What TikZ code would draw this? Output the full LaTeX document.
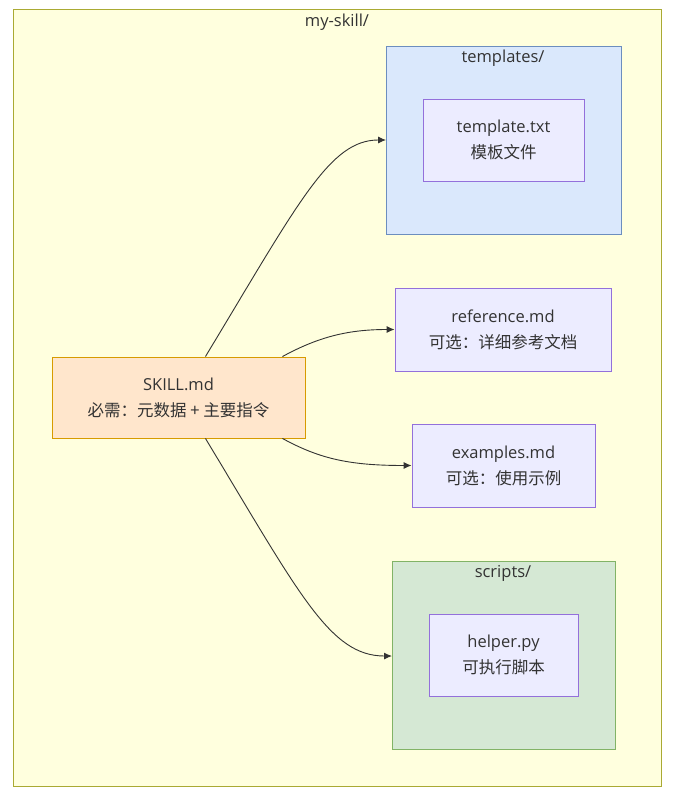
\documentclass[tikz,border=0pt]{standalone}
\usepackage{fontspec}
\setmainfont{Open Sans}
\newfontfamily\cjk{Noto Sans CJK SC}
\usetikzlibrary{arrows.meta}
\definecolor{txt}{HTML}{333333}
\definecolor{outerfill}{HTML}{FFFFDE}
\definecolor{outerline}{HTML}{AAAA33}
\definecolor{bluefill}{HTML}{DAE8FC}
\definecolor{blueline}{HTML}{6C8EBF}
\definecolor{greenfill}{HTML}{D5E8D4}
\definecolor{greenline}{HTML}{82B366}
\definecolor{orangefill}{HTML}{FFE6CC}
\definecolor{orangeline}{HTML}{D79B00}
\definecolor{nodefill}{HTML}{ECECFF}
\definecolor{nodeline}{HTML}{9370DB}
\begin{document}
\begin{tikzpicture}[x=1pt,y=-1pt,
  every node/.style={text=txt,font=\fontsize{16.5}{26}\selectfont},
  filebox/.style={draw=nodeline,fill=nodefill,line width=0.9pt,align=center,inner sep=0pt},
  clusterbox/.style={line width=0.9pt},
  conn/.style={draw=txt,line width=0.9pt,-{Latex[length=8pt,width=7pt]}}]
\useasboundingbox (0,0) rectangle (678,800);
\fill[white] (0,0) rectangle (678,800);
% outer cluster
\draw[clusterbox,draw=outerline,fill=outerfill] (13,9) rectangle (661,786);
\node (lmain) at (337,22) {my-skill/};
% templates cluster
\draw[clusterbox,draw=blueline,fill=bluefill] (386,46) rectangle (621,234);
\node (ltempl) at (503,58) {templates/};
% scripts cluster
\draw[clusterbox,draw=greenline,fill=greenfill] (392,561) rectangle (615,749);
\node (lscripts) at (503,573) {scripts/};
% nodes
\node[filebox,minimum width=161pt,minimum height=82pt] (tmpl) at (503.5,140) {template.txt\\{\cjk 模板文件}};
\node[filebox,minimum width=216pt,minimum height=83pt] (ref) at (503,329.5) {reference.md\\{\cjk 可选：详细参考文档}};
\node[filebox,minimum width=183pt,minimum height=83pt] (ex) at (503.5,465.5) {examples.md\\{\cjk 可选：使用示例}};
\node[filebox,minimum width=149pt,minimum height=82pt] (helper) at (503.5,655) {helper.py\\{\cjk 可执行脚本}};
\node[filebox,draw=orangeline,fill=orangefill,minimum width=253pt,minimum height=81pt] (skill) at (178.5,397.5) {SKILL.md\\{\cjk 必需：元数据 + 主要指令}};
% connector end points on cluster borders
\coordinate (tin) at (386,140);
\coordinate (sin) at (392,656);
\draw[conn] ([xshift=-100pt]skill.north east) .. controls (300,200) and (330,140) .. (tin);
\draw[conn] ([xshift=-23pt]skill.north east) .. controls (320,336) and (350,329.5) .. (ref.west);
\draw[conn] ([xshift=-23pt]skill.south east) .. controls (320,459) and (350,465.5) .. (ex.west);
\draw[conn] ([xshift=-100pt]skill.south east) .. controls (300,595) and (330,656) .. (sin);
\end{tikzpicture}
\end{document}
